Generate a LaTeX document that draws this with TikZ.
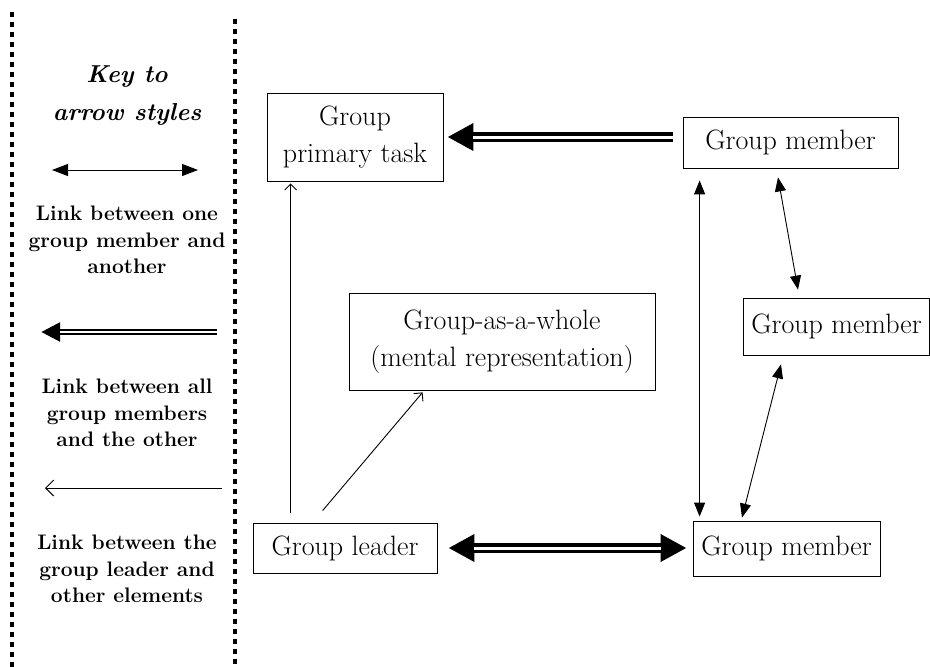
\documentclass[tikz,border=0pt]{standalone}
\usepackage{fontspec}
\usetikzlibrary{arrows.meta}
\begin{document}
\begin{tikzpicture}[x=1pt,y=-1pt,
  box/.style={draw, line width=0.8pt, inner sep=0pt, align=center, font=\fontsize{28}{37}\selectfont},
  keytxt/.style={align=center, font=\fontsize{21}{26.5}\selectfont\bfseries},
  keytitle/.style={align=center, font=\fontsize{24.5}{38}\selectfont\bfseries\itshape},
  thinboth/.style={line width=0.9pt, {Triangle[length=14pt,width=11pt]}-{Triangle[length=14pt,width=11pt]}},
  keyboth/.style={line width=1pt, {Triangle[length=16pt,width=12pt]}-{Triangle[length=16pt,width=12pt]}},
  lead/.style={line width=0.9pt, -{Straight Barb[length=6pt,width=12pt]}},
  keylead/.style={line width=1pt, -{Straight Barb[length=8pt,width=16pt]}},
  fat/.style={line width=10pt, -{Triangle[length=26pt,width=26pt]},
    postaction={draw, white, line width=3pt, -, shorten >=26pt}},
  keyfat/.style={line width=6pt, -{Triangle[length=19pt,width=18pt]},
    postaction={draw, white, line width=2pt, -, shorten >=19pt}},
  fatboth/.style={line width=10pt, {Triangle[length=26pt,width=26pt]}-{Triangle[length=26pt,width=26pt]},
    postaction={draw, white, line width=3pt, -, shorten >=26pt, shorten <=26pt}},
  dots/.style={line width=4.5pt, dash pattern=on 4.5pt off 5.5pt},
]
\useasboundingbox (0,0) rectangle (930,667);

% dotted frame of the key
\coordinate (dl1) at (12,12);
\coordinate (dl2) at (12,667);
\coordinate (dr1) at (235,19);
\coordinate (dr2) at (235,667);
\draw[dots] (dl1) -- (dl2);
\draw[dots] (dr1) -- (dr2);

% key
\node[keytitle] (title) at (127,96) {Key to\\arrow styles};
\coordinate (k1a) at (52,170);
\coordinate (k1b) at (198,170);
\draw[keyboth] (k1a) -- (k1b);
\node[keytxt] (k1) at (127,240) {Link between one\\group member and\\another};
\coordinate (k2a) at (217,332);
\coordinate (k2b) at (41,332);
\draw[keyfat] (k2a) -- (k2b);
\node[keytxt] (k2) at (127,413) {Link between all\\group members\\and the other};
\coordinate (k3a) at (222,488);
\coordinate (k3b) at (45,488);
\draw[keylead] (k3a) -- (k3b);
\node[keytxt] (k3) at (127,569) {Link between the\\group leader and\\other elements};

% nodes
\node[box, minimum width=176pt, minimum height=88pt] (task) at (355,137) {Group\\primary task};
\node[box, minimum width=306pt, minimum height=97pt] (whole) at (502,341.5) {Group-as-a-whole\\(mental representation)};
\node[box, minimum width=184pt, minimum height=50pt] (leader) at (345,548) {Group leader};
\node[box, minimum width=215pt, minimum height=51pt] (m1) at (790.5,142.5) {Group member};
\node[box, minimum width=186pt, minimum height=57pt] (m2) at (836.5,326.5) {Group member};
\node[box, minimum width=187pt, minimum height=55pt] (m3) at (786.5,548.5) {Group member};

% connectors
\draw[lead] ([xshift=38pt,yshift=10pt]leader.north west) -- ([xshift=24pt,yshift=-2pt]task.south west);
\draw[lead] ([xshift=70pt,yshift=12pt]leader.north west) -- ([xshift=74pt,yshift=-2pt]whole.south west);
\draw[fat] ([xshift=-10pt,yshift=5.5pt]m1.west) -- ([xshift=4pt]task.east);
\draw[fatboth] ([xshift=11pt]leader.east) -- ([xshift=-6pt,yshift=0.5pt]m3.west);
\draw[thinboth] ([xshift=17pt,yshift=-12pt]m1.south west) -- ([xshift=7pt,yshift=4pt]m3.north west);
\draw[thinboth] ([xshift=-12.5pt,yshift=-9pt]m1.south) -- ([xshift=-38.5pt,yshift=8pt]m2.north);
\draw[thinboth] ([xshift=-55.5pt,yshift=-9pt]m2.south) -- ([xshift=-44.5pt,yshift=3pt]m3.north);
\end{tikzpicture}
\end{document}
